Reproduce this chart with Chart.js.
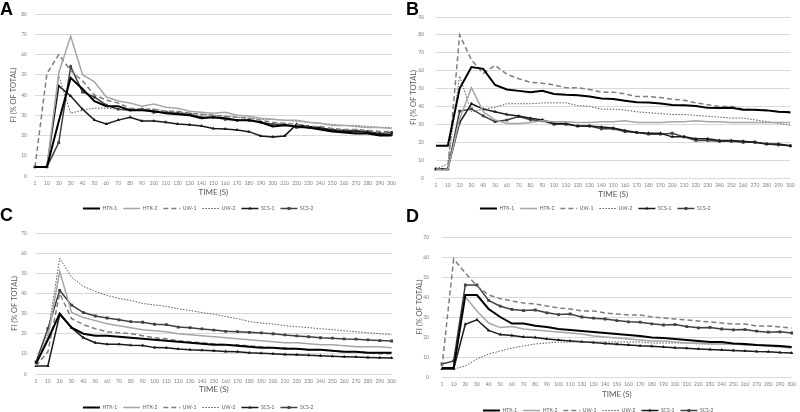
<!DOCTYPE html>
<html>
<head>
<meta charset="utf-8">
<script src="https://cdn.jsdelivr.net/npm/chart.js"></script>
<style>
  body { margin: 0; width: 800px; height: 412px; overflow: hidden; background: #fff; position: relative; }
  .panel { position: absolute; }
  .letter { position: absolute; font: bold 18px "Liberation Sans", Arial, sans-serif; line-height: 18px; color: #000; }
</style>
</head>
<body>
<canvas id="chartA" class="panel" width="400" height="221" style="left:0;top:0"></canvas>
<canvas id="chartB" class="panel" width="400" height="221" style="left:400px;top:0"></canvas>
<canvas id="chartC" class="panel" width="400" height="199" style="left:0;top:221px"></canvas>
<canvas id="chartD" class="panel" width="400" height="202" style="left:400px;top:221px"></canvas>
<div class="letter" style="left:0;top:0">A</div>
<div class="letter" style="left:406px;top:0">B</div>
<div class="letter" style="left:0;top:206px">C</div>
<div class="letter" style="left:406px;top:207px">D</div>
<script>
const timeLabels = ['1', '10', '20', '30', '40', '50', '60', '70', '80', '90', '100', '110', '120', '130', '140', '150',
  '160', '170', '180', '190', '200', '210', '220', '230', '240', '250', '260', '270', '280', '290', '300'];
const seriesNames = ['HTK-1', 'HTK-2', 'UW-1', 'UW-2', 'SCS-1', 'SCS-2'];

// panel A
const aHtk1 = [4.5, 4.5, 27, 48.5, 43, 37, 34.5, 34.5, 32.5, 32.5, 32, 31, 30.5, 30, 28.5, 29, 28.5, 27.5, 27.5, 26.5, 24.5, 25, 24.5, 24, 23, 22, 21.5, 21, 21, 20, 20];
const aHtk2 = [4.5, 4.5, 51, 69, 50, 46.5, 39, 37, 36, 34.5, 35.5, 34, 33.5, 32, 31.5, 31, 31.5, 30, 29.5, 28.5, 28, 27.5, 27.5, 26.5, 26, 25, 25, 24.5, 24, 24, 23.5];
const aUw1 = [4.5, 50.5, 60, 52, 47, 40, 37.5, 36, 33.5, 33, 33, 32, 32, 31, 30.5, 30, 29.5, 29, 28.5, 27.5, 26.5, 26, 25.5, 24.5, 24.5, 23.5, 23, 23, 22.5, 22, 22];
const aUw2 = [4.5, 4.5, 49.5, 31, 32.5, 33.5, 33.5, 33, 33, 33, 33, 32, 31.5, 31, 30.5, 30, 29.5, 29, 28.5, 28, 28, 27.5, 27, 26.5, 26, 25.5, 25, 25, 24.5, 24, 24];
const aScs1 = [4.5, 4.5, 44.5, 39.5, 33, 27.6, 25.7, 27.6, 29, 27.2, 27.2, 26.5, 25.7, 25.3, 24.7, 23.5, 23.2, 22.7, 21.9, 19.8, 19.3, 19.8, 25.5, 24.5, 24, 22.5, 22, 22, 21.5, 20.5, 20.5];
const aScs2 = [4.5, 4.5, 16.5, 54, 41.5, 39, 35, 33, 32.5, 33, 31.5, 31.5, 31, 30.5, 29, 29, 28, 27.5, 27.5, 26.5, 25.5, 25.5, 24, 24, 23.5, 23, 22.5, 22.5, 22, 21, 21.5];

// panel B
const bHtk1 = [18, 18, 50, 62, 61, 52, 49.5, 48.7, 47.9, 48.8, 47, 46.5, 46.3, 45.6, 44.4, 44.2, 43.2, 42.3, 42.2, 41.7, 40.8, 40.6, 40.3, 39.2, 39.1, 39.3, 38.2, 38.1, 37.8, 37, 36.8];
const bHtk2 = [4.5, 4.5, 33, 50.5, 37, 32.5, 30.5, 30.5, 31, 32, 31.5, 31.5, 31, 31, 31.5, 31.5, 32, 31, 31, 31, 31.5, 31.5, 32, 31.5, 31.5, 31, 31, 31, 31, 31, 31];
const bUw1 = [5, 5, 80, 66, 58.5, 63, 58, 55.5, 53.5, 53, 52, 50.5, 50.5, 49.5, 48, 48, 47, 45.5, 45.5, 45, 44, 43.5, 42, 41, 40, 40, 38.5, 38, 38, 37, 36.5];
const bUw2 = [5, 8, 57, 37, 38.5, 39.5, 41.5, 41.5, 41.5, 42, 42, 42, 40.5, 40, 38.5, 38.5, 38, 37, 36.5, 36, 35.5, 35.5, 35, 34.5, 34, 33.5, 33.5, 32.5, 31.5, 30.5, 29.5];
const bScs1 = [5, 5, 31, 41.5, 38.5, 37, 35.5, 34.7, 33.4, 32.5, 30.5, 30.5, 29, 29, 28.5, 28, 26.5, 25.5, 25, 25, 23, 23, 22, 22, 21, 21, 20.5, 20, 19, 19, 18];
const bScs2 = [5, 5, 37.4, 38.6, 34.7, 31.5, 32.4, 34.3, 32.5, 32, 30, 30, 29, 29, 27.5, 27.5, 26, 25.5, 24.5, 24.5, 25, 23, 21, 21, 20.5, 20.5, 20, 20, 19, 18.5, 18];

// panel C
const cHtk1 = [5, 17, 30, 23, 20, 19, 19, 18.5, 18, 17.5, 17, 16.5, 16, 15.5, 15, 14.5, 14.5, 14, 13.5, 13, 13, 12.5, 12.5, 12, 12, 11.5, 11, 11, 10.5, 10.5, 10.5];
const cHtk2 = [5, 18, 51, 30.5, 28, 26.5, 25, 24, 23, 22, 21.5, 21, 20, 19.5, 19, 18.5, 18, 17.5, 17, 16.5, 16, 15.5, 15.5, 15, 14.5, 14.5, 14, 13.5, 13.5, 13.5, 13];
const cUw1 = [4, 11, 40, 27.5, 24.5, 22.5, 21, 20.5, 20, 19, 18, 17.5, 16.5, 16, 15.5, 15, 14.5, 14.5, 14, 13.5, 13, 13, 12.5, 12, 12, 11.5, 11, 11, 10.5, 10, 10];
const cUw2 = [5, 20, 57.5, 48, 43.5, 41, 39, 37.5, 36.5, 35, 34.3, 33.5, 32.4, 31.5, 30.5, 29.7, 28.5, 27.5, 26, 25.3, 24.8, 24, 23.5, 23, 22.5, 22, 21.5, 21, 20.5, 20, 19.5];
const cScs1 = [4, 4, 29.5, 23, 18, 15.5, 14.8, 14.8, 14.3, 14.2, 13.1, 13, 12.4, 12, 11.8, 11.5, 11.2, 11, 10.5, 10.3, 10, 9.7, 9.5, 9.3, 9, 8.8, 8.6, 8.4, 8.2, 8.1, 8];
const cScs2 = [6, 22.5, 41.5, 34.2, 30.5, 28.8, 27.8, 26.9, 26, 25.7, 24.7, 24.5, 23.3, 23, 22.4, 21.8, 21.2, 21, 20.7, 20.4, 20, 19.4, 18.9, 18.5, 18, 17.8, 17.4, 17.3, 16.9, 16.6, 16.4];

// panel D
const dHtk1 = [4.5, 4.5, 41, 41, 34, 30, 26.7, 26.7, 25.6, 25, 24, 23.5, 23, 22.5, 22, 21.5, 21, 20.5, 19.7, 19.5, 19, 18.5, 18, 17.5, 17.5, 16.7, 16.5, 16, 15.7, 15.5, 15];
const dHtk2 = [4.5, 4.5, 40, 33, 27, 24.7, 25.2, 24, 23.5, 23, 22.5, 22, 21.5, 20.5, 20, 19.5, 19, 18.5, 18, 18, 17.5, 17, 17, 16.5, 16.5, 16.5, 16, 16, 15.5, 15, 14.5];
const dUw1 = [5, 59, 52, 45.5, 41, 39.2, 38, 37, 36.5, 35.5, 34.5, 34, 33, 33, 32, 31.5, 31, 31, 30, 29.5, 29, 28.5, 28, 27.5, 27, 26.5, 26.5, 25.5, 25.5, 25, 24.5];
const dUw2 = [4, 4, 5.5, 9, 11.5, 13, 14.5, 15.5, 16.5, 17, 17.5, 17.5, 17.5, 17.5, 17.5, 17.5, 17.5, 17.5, 17, 17, 17, 17, 16.5, 16.5, 16.5, 16.5, 16, 16, 15.5, 15.5, 15];
const dScs1 = [4, 4, 26.4, 28.6, 23.3, 21.2, 20.7, 20, 19.7, 19, 18.5, 18, 17.6, 17.2, 16.8, 16.4, 16, 15.6, 15.4, 15, 14.6, 14.4, 14, 13.7, 13.5, 13.2, 13, 12.7, 12.6, 12.2, 12];
const dScs2 = [6.5, 8, 46, 46, 38.3, 35.4, 33.8, 33.2, 33.5, 32.1, 31.2, 31.5, 30, 29.4, 29, 28.2, 27.6, 27.4, 26.6, 26, 26.2, 25.2, 24.6, 24.8, 24, 23.6, 23.7, 22.9, 22.4, 22.6, 22];

const lineStyles = [
  { borderColor: '#000000', borderWidth: 2 },
  { borderColor: '#a6a6a6', borderWidth: 1.5 },
  { borderColor: '#7f7f7f', borderWidth: 1.5, borderDash: [5, 3] },
  { borderColor: '#595959', borderWidth: 1, borderDash: [1.5, 1.5] },
  { borderColor: '#1a1a1a', borderWidth: 1.5, pointStyle: 'triangle', pointRadius: 2 },
  { borderColor: '#404040', borderWidth: 1.5, pointStyle: 'rect', pointRadius: 2 }
];
const legendBoxW = 17;

const makeDatasets = (series) => series.map((values, i) => ({
  label: seriesNames[i],
  data: values,
  tension: 0,
  pointRadius: 0,
  ...lineStyles[i],
  backgroundColor: lineStyles[i].borderColor,
  pointBackgroundColor: lineStyles[i].borderColor,
  pointBorderWidth: 0
}));

// excel style legend samples: a short line, with the marker in its middle
const legendLines = {
  id: 'legendLines',
  afterDraw(chart) {
    const ctx = chart.ctx;
    (chart.legend.legendHitBoxes || []).forEach((box, i) => {
      const ds = chart.data.datasets[i];
      const y = box.top + box.height / 2;
      ctx.save();
      ctx.strokeStyle = ds.borderColor;
      ctx.fillStyle = ds.borderColor;
      ctx.lineWidth = ds.borderWidth;
      ctx.setLineDash(ds.borderDash || []);
      ctx.beginPath();
      ctx.moveTo(box.left, y);
      ctx.lineTo(box.left + legendBoxW, y);
      ctx.stroke();
      ctx.setLineDash([]);
      if (ds.pointStyle) {
        Chart.helpers.drawPoint(ctx, { pointStyle: ds.pointStyle, radius: 2, borderWidth: 0, rotation: 0 }, box.left + legendBoxW / 2, y);
      }
      ctx.restore();
    });
  }
};

const grayText = '#595959';

const panelOptions = (yMax, area) => ({
  responsive: false,
  animation: false,
  layout: { padding: { top: area.top, right: area.right, left: 0, bottom: 0 } },
  plugins: {
    legend: {
      position: 'bottom',
      labels: {
        color: grayText,
        font: { family: 'Lato', size: 5 },
        padding: 6,
        boxWidth: legendBoxW,
        generateLabels: (chart) => Chart.defaults.plugins.legend.labels.generateLabels(chart)
          .map(item => ({ ...item, fillStyle: 'rgba(0,0,0,0)', strokeStyle: 'rgba(0,0,0,0)', lineWidth: 0 }))
      }
    },
    tooltip: { enabled: false }
  },
  scales: {
    x: {
      grid: { display: false, drawTicks: false },
      border: { display: false },
      ticks: { color: '#7f7f7f', font: { family: 'Lato', size: 5 }, padding: 4, maxRotation: 0, autoSkip: false },
      title: { display: true, text: 'TIME (S)', color: grayText, font: { family: 'Lato', size: 8 }, padding: { top: 0, bottom: area.titlePad } },
      afterFit: (scale) => { scale.height = area.axisH; }
    },
    y: {
      min: 0,
      max: yMax,
      ticks: { stepSize: 10, color: '#7f7f7f', font: { family: 'Lato', size: 5 }, padding: area.tickPad },
      grid: { color: '#d9d9d9', drawTicks: false },
      border: { display: false },
      title: { display: true, text: 'FI (% OF TOTAL)', color: grayText, font: { family: 'Lato', size: 7.5 }, padding: { top: area.yTitlePad, bottom: 0 } },
      afterFit: (scale) => { scale.width = area.left; }
    }
  }
});

const buildPanel = (id, series, yMax, area) => new Chart(document.getElementById(id), {
  type: 'line',
  data: { labels: timeLabels, datasets: makeDatasets(series) },
  options: panelOptions(yMax, area),
  plugins: [legendLines]
});

buildPanel('chartA', [aHtk1, aHtk2, aUw1, aUw2, aScs1, aScs2], 80,
  { left: 35, right: 3.6, top: 14, axisH: 24, titlePad: 3, tickPad: 8, yTitlePad: 9 });
buildPanel('chartB', [bHtk1, bHtk2, bUw1, bUw2, bScs1, bScs2], 90,
  { left: 36, right: 9.6, top: 17, axisH: 22, titlePad: 1, tickPad: 12, yTitlePad: 9 });
buildPanel('chartC', [cHtk1, cHtk2, cUw1, cUw2, cScs1, cScs2], 70,
  { left: 36, right: 3.6, top: 2, axisH: 25, titlePad: 5, tickPad: 9, yTitlePad: 10 });
buildPanel('chartD', [dHtk1, dHtk2, dUw1, dUw2, dScs1, dScs2], 70,
  { left: 42, right: 3.6, top: 5, axisH: 25, titlePad: 3, tickPad: 13, yTitlePad: 15 });
</script>
</body>
</html>
